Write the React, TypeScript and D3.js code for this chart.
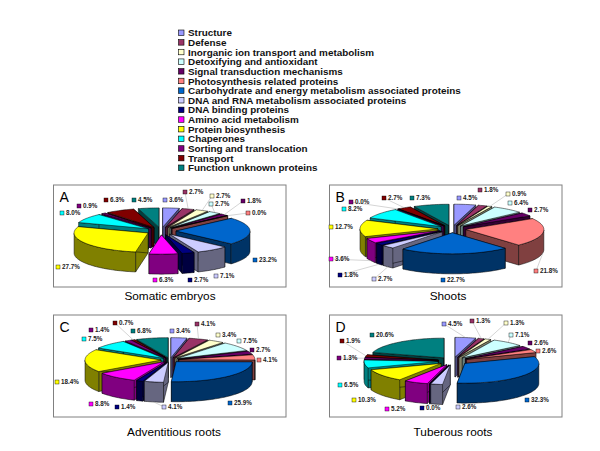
import React from "react";
import * as d3 from "d3";

// legend categories and their slice colours
const categories = [
  "Structure",
  "Defense",
  "Inorganic ion transport and metabolism",
  "Detoxifying and antioxidant",
  "Signal transduction mechanisms",
  "Photosynthesis related proteins",
  "Carbohydrate and energy metabolism associated proteins",
  "DNA and RNA metabolism associated proteins",
  "DNA binding proteins",
  "Amino acid metabolism",
  "Protein biosynthesis",
  "Chaperones",
  "Sorting and translocation",
  "Transport",
  "Function unknown proteins",
];
const colors = [
  "#9999ff", "#993366", "#ffffcc", "#ccffff", "#660066",
  "#ff8080", "#0066cc", "#ccccff", "#000080", "#ff00ff",
  "#ffff00", "#00ffff", "#800080", "#800000", "#008080",
];

// percentages per panel, same order as categories
const valuesA = [3.6, 2.7, 2.7, 2.7, 1.8, 0.0, 23.2, 7.1, 2.7, 6.3, 27.7, 8.0, 0.9, 6.3, 4.5];
const valuesB = [4.5, 1.8, 0.9, 6.4, 2.7, 21.8, 22.7, 2.7, 1.8, 3.6, 12.7, 8.2, 0.0, 2.7, 7.3];
const valuesC = [3.4, 4.1, 3.4, 7.5, 2.7, 4.1, 25.9, 4.1, 1.4, 8.8, 18.4, 7.5, 1.4, 0.7, 6.8];
const valuesD = [4.5, 1.3, 1.3, 7.1, 2.6, 2.6, 32.3, 2.6, 0.0, 5.2, 10.3, 6.5, 1.3, 1.9, 20.6];

// where each percent label sits (swatch left, swatch middle)
const labelsA = [[165, 200], [185, 192], [212, 196], [211, 204], [243, 201], [248, 213], [255, 260], [216, 276], [190, 280], [155, 280], [58, 267], [62, 213], [79, 206], [106, 200], [134, 200]];
const labelsB = [[459, 198], [480, 190], [508, 194], [510, 203], [530, 210], [536, 271], [443, 280], [374, 279], [340, 275], [331, 259], [331, 227], [344, 209], [351, 202], [384, 198], [412, 198]];
const labelsC = [[172, 331], [197, 324], [218, 335], [239, 341], [252, 350], [259, 360], [230, 403], [164, 407], [117, 407], [91, 404], [57, 382], [84, 339], [91, 330], [115, 323], [133, 331]];
const labelsD = [[444, 324], [472, 321], [506, 323], [511, 335], [530, 343], [538, 351], [527, 400], [458, 407], [422, 408], [387, 409], [354, 400], [340, 385], [339, 358], [342, 341], [372, 335]];

// slices that get a thin leader line to their label
const leadersA = [1, 2, 3, 4, 5];
const leadersB = [2, 5, 7, 8, 9, 12, 13];
const leadersC = [1, 7, 13];
const leadersD = [0, 1, 2, 3, 8, 12, 13];

const panels = [
  { letter: "A", caption: "Somatic embryos", values: valuesA, labels: labelsA, leaders: leadersA, box: [53.5, 185, 232.5, 102], cx: 161, cy: 231, rx: 74, k: 0.26, explode: 15, depth: 20, capX: 170, capY: 300 },
  { letter: "B", caption: "Shoots", values: valuesB, labels: labelsB, leaders: leadersB, box: [329.5, 185, 232.5, 102], cx: 452, cy: 229, rx: 78, k: 0.27, explode: 14, depth: 20, capX: 448, capY: 300 },
  { letter: "C", caption: "Adventitious roots", values: valuesC, labels: labelsC, leaders: leadersC, box: [53.5, 315, 232.5, 102], cx: 170, cy: 360, rx: 76, k: 0.263, explode: 9, depth: 20, capX: 174, capY: 436 },
  { letter: "D", caption: "Tuberous roots", values: valuesD, labels: labelsD, leaders: leadersD, box: [329.5, 315, 232.5, 102], cx: 453, cy: 361, rx: 74, k: 0.266, explode: 15, depth: 20, capX: 453, capY: 436 },
];

const line = d3.line();
const halfDark = (c: string) => {
  const r = d3.rgb(c);
  return d3.rgb(r.r * 0.5, r.g * 0.5, r.b * 0.5).formatHex();
};

const Pie3D = ({ panel }: any) => {
  const { values, labels, leaders, cx, cy, rx, k, explode, depth } = panel;
  const arcs = d3.pie<number>().sort(null).startAngle(0).endAngle(2 * Math.PI)(values);

  const slices = arcs.map((a, i) => {
    const mid = (a.startAngle + a.endAngle) / 2;
    const ox = cx + explode * Math.sin(mid);
    const oy = cy - explode * Math.cos(mid) * k;
    const rim = (t: number, dz = 0): [number, number] => [
      ox + rx * Math.sin(t),
      oy - rx * Math.cos(t) * k + dz,
    ];
    const steps = d3.range(a.startAngle, a.endAngle, 0.03).concat(a.endAngle);
    const top = line([[ox, oy], ...steps.map((t) => rim(t))]) + "Z";
    const wall = (t: number) =>
      line([[ox, oy], rim(t), rim(t, depth), [ox, oy + depth]]) + "Z";
    // only the part of the rim that faces the viewer
    const front = steps.filter((t) => Math.cos(t) < 0);
    const outer = front.length
      ? line([...front.map((t) => rim(t)), ...front.slice().reverse().map((t) => rim(t, depth))]) + "Z"
      : null;
    return { i, mid, top, walls: [wall(a.startAngle), wall(a.endAngle)], outer, rim };
  });

  // back slices first
  const order = slices.slice().sort((p, q) => Math.cos(q.mid) - Math.cos(p.mid));

  return (
    <g>
      {order.map((s) => (
        <g key={s.i} stroke="#000" strokeWidth={0.5} strokeLinejoin="round">
          {s.walls.map((d, j) => (
            <path key={j} d={d} fill={halfDark(colors[s.i])} />
          ))}
          {s.outer && <path d={s.outer} fill={halfDark(colors[s.i])} />}
          <path d={s.top} fill={colors[s.i]} />
        </g>
      ))}
      {leaders.map((i: number) => {
        const [x1, y1] = slices[i].rim(slices[i].mid, Math.cos(slices[i].mid) < 0 ? depth : 0);
        const [x2, y2] = labels[i];
        return <line key={i} x1={x1} y1={y1} x2={x2} y2={y2} stroke="#aaa" strokeWidth={0.5} />;
      })}
      {values.map((v: number, i: number) => {
        const [x, y] = labels[i];
        return (
          <g key={i}>
            <rect x={x - 2} y={y - 2} width={4} height={4} fill={colors[i]} stroke="#000" strokeWidth={0.4} />
            <text x={x + 4} y={y + 2.2} fontSize={6.3} fontWeight="bold" fill="#222">
              {v.toFixed(1)}%
            </text>
          </g>
        );
      })}
    </g>
  );
};

export default function App() {
  const legendY = d3.scalePoint<string>().domain(categories).range([32.7, 167.7]);
  return (
    <svg
      width={600}
      height={451}
      style={{ position: "absolute", left: 0, top: 0, background: "#fff" }}
      fontFamily="'Liberation Sans', Arial, sans-serif"
    >
      {categories.map((c, i) => (
        <g key={c}>
          <rect x={178.5} y={legendY(c)! - 2.7} width={5.5} height={5.5} fill={colors[i]} stroke="#000" strokeWidth={0.6} />
          <text x={188} y={legendY(c)! + 3.6} fontSize={9.9} fontWeight="bold" fill="#111">
            {c}
          </text>
        </g>
      ))}
      {panels.map((p) => (
        <g key={p.letter}>
          <rect x={p.box[0]} y={p.box[1]} width={p.box[2]} height={p.box[3]} fill="#fff" stroke="#808080" strokeWidth={1} />
          <text x={p.box[0] + 6} y={p.box[1] + 17} fontSize={14} fill="#000">
            {p.letter}
          </text>
          <Pie3D panel={p} />
          <text x={p.capX} y={p.capY} fontSize={11.8} textAnchor="middle" fill="#000">
            {p.caption}
          </text>
        </g>
      ))}
    </svg>
  );
}
